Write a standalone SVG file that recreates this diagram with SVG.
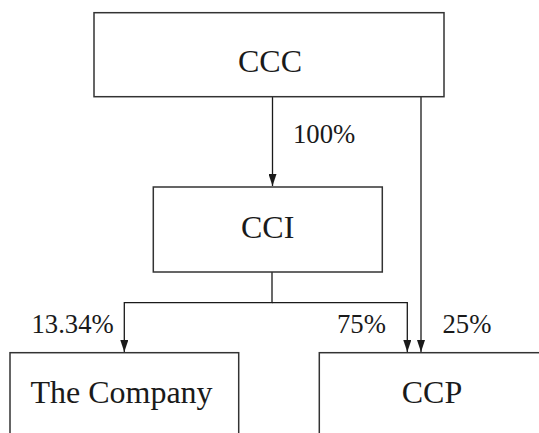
<svg xmlns="http://www.w3.org/2000/svg" width="539" height="433" viewBox="0 0 539 433">
  <defs>
    <marker id="arrow" markerUnits="userSpaceOnUse" markerWidth="12" markerHeight="8" refX="12" refY="4" orient="auto">
      <path d="M0,0 L12,4 L0,8 z" fill="#1a1a1a"/>
    </marker>
  </defs>
  <style>
    .box { fill: #ffffff; stroke: #333333; stroke-width: 1.5; }
    .name { font-family: "Liberation Serif", "Times New Roman", serif; font-size: 32px; fill: #1a1a1a; text-anchor: middle; }
    .pct { font-family: "Liberation Serif", "Times New Roman", serif; font-size: 26.7px; fill: #1a1a1a; }
    .conn { fill: none; stroke: #1a1a1a; stroke-width: 1.3; marker-end: url(#arrow); }
  </style>
  <rect width="539" height="433" fill="#ffffff"/>
  <g id="connectors">
    <path class="conn" d="M272.5,96.5 V186"/>
    <path class="conn" d="M421,96.5 V352"/>
    <path class="conn" d="M272,272 V302.7 H124.3 V352"/>
    <path class="conn" d="M272,302.7 H407.3 V352"/>
    <text class="pct" x="293" y="143">100%</text>
    <text class="pct" x="31.5" y="333">13.34%</text>
    <text class="pct" x="337" y="333">75%</text>
    <text class="pct" x="442.5" y="333">25%</text>
  </g>
  <g id="ccc">
    <rect class="box" x="94" y="12.7" width="350" height="84"/>
    <text class="name" x="270" y="71.7">CCC</text>
  </g>
  <g id="cci">
    <rect class="box" x="153.3" y="187" width="229" height="85"/>
    <text class="name" x="267.7" y="238.3">CCI</text>
  </g>
  <g id="company">
    <rect class="box" x="10" y="352.7" width="228.7" height="100"/>
    <text class="name" x="121.5" y="403">The Company</text>
  </g>
  <g id="ccp">
    <rect class="box" x="319.3" y="352.7" width="226" height="100"/>
    <text class="name" x="432" y="403">CCP</text>
  </g>
</svg>
